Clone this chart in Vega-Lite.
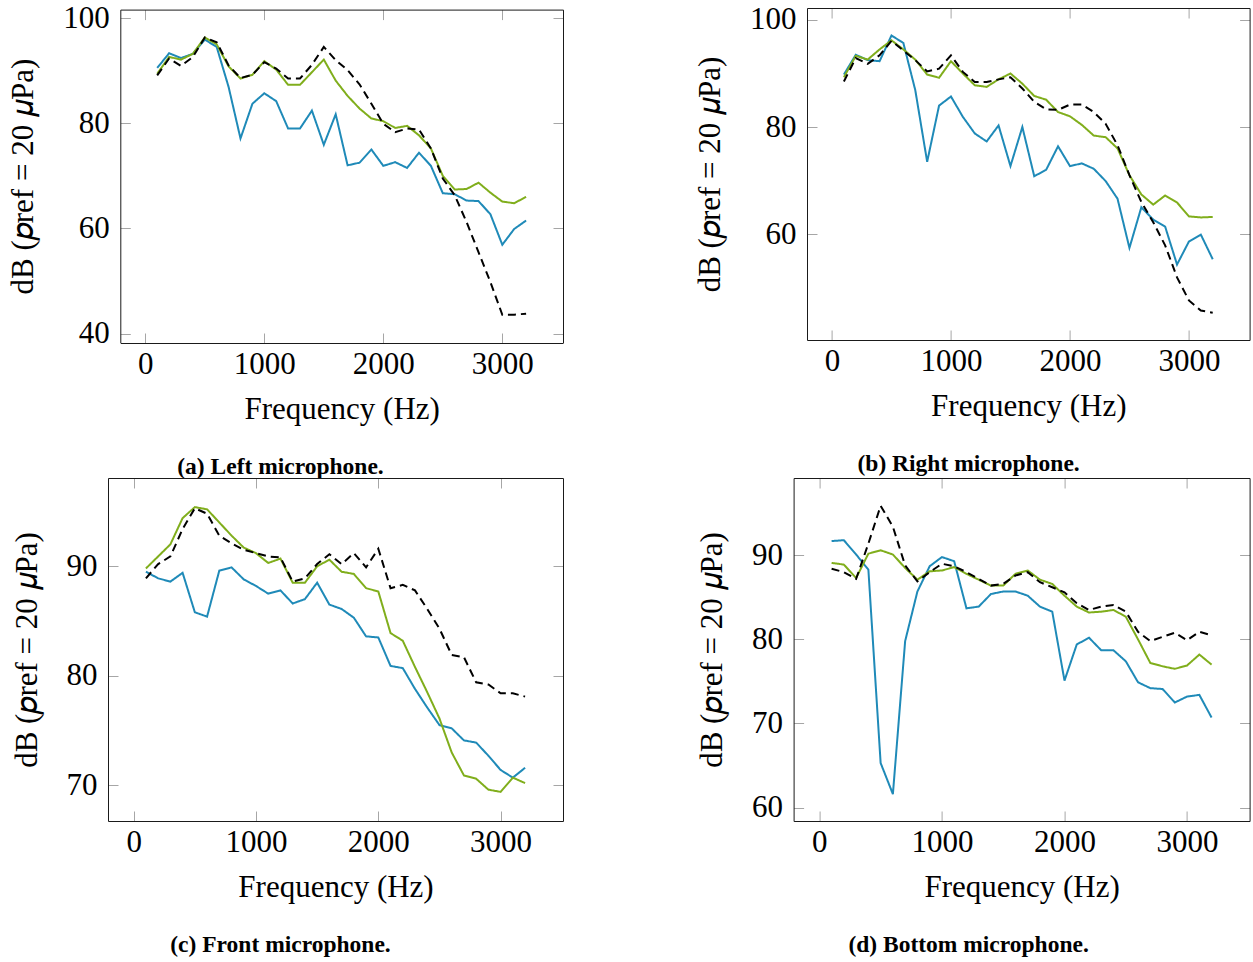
{
  "$schema": "https://vega.github.io/schema/vega-lite/v6.json",
  "padding": {"left": 7, "top": 2, "right": 0, "bottom": 0},
  "datasets": {
    "left": [
      {"f":100,"s":"M1","db":90.5},{"f":200,"s":"M1","db":93.3},{"f":300,"s":"M1","db":92.4},{"f":400,"s":"M1","db":93.2},{"f":500,"s":"M1","db":95.9},{"f":600,"s":"M1","db":94.5},{"f":700,"s":"M1","db":86.9},{"f":800,"s":"M1","db":77.1},{"f":900,"s":"M1","db":83.7},{"f":1000,"s":"M1","db":85.7},{"f":1100,"s":"M1","db":84.2},{"f":1200,"s":"M1","db":79.0},{"f":1300,"s":"M1","db":79.0},{"f":1400,"s":"M1","db":82.4},{"f":1500,"s":"M1","db":75.9},{"f":1600,"s":"M1","db":81.7},{"f":1700,"s":"M1","db":72.0},{"f":1800,"s":"M1","db":72.5},{"f":1900,"s":"M1","db":75.0},{"f":2000,"s":"M1","db":71.9},{"f":2100,"s":"M1","db":72.6},{"f":2200,"s":"M1","db":71.5},{"f":2300,"s":"M1","db":74.4},{"f":2400,"s":"M1","db":71.9},{"f":2500,"s":"M1","db":66.7},{"f":2600,"s":"M1","db":66.5},{"f":2700,"s":"M1","db":65.3},{"f":2800,"s":"M1","db":65.2},{"f":2900,"s":"M1","db":62.7},{"f":3000,"s":"M1","db":56.9},{"f":3100,"s":"M1","db":59.9},{"f":3200,"s":"M1","db":61.5},
      {"f":100,"s":"M2","db":89.4},{"f":200,"s":"M2","db":92.6},{"f":300,"s":"M2","db":92.1},{"f":400,"s":"M2","db":93.2},{"f":500,"s":"M2","db":96.3},{"f":600,"s":"M2","db":95.0},{"f":700,"s":"M2","db":90.8},{"f":800,"s":"M2","db":88.5},{"f":900,"s":"M2","db":89.2},{"f":1000,"s":"M2","db":91.8},{"f":1100,"s":"M2","db":90.2},{"f":1200,"s":"M2","db":87.3},{"f":1300,"s":"M2","db":87.3},{"f":1400,"s":"M2","db":89.7},{"f":1500,"s":"M2","db":92.1},{"f":1600,"s":"M2","db":88.1},{"f":1700,"s":"M2","db":85.2},{"f":1800,"s":"M2","db":82.8},{"f":1900,"s":"M2","db":80.9},{"f":2000,"s":"M2","db":80.4},{"f":2100,"s":"M2","db":79.1},{"f":2200,"s":"M2","db":79.5},{"f":2300,"s":"M2","db":77.7},{"f":2400,"s":"M2","db":75.2},{"f":2500,"s":"M2","db":70.0},{"f":2600,"s":"M2","db":67.4},{"f":2700,"s":"M2","db":67.5},{"f":2800,"s":"M2","db":68.7},{"f":2900,"s":"M2","db":66.8},{"f":3000,"s":"M2","db":65.1},{"f":3100,"s":"M2","db":64.8},{"f":3200,"s":"M2","db":66.0},
      {"f":100,"s":"Model","db":89.1},{"f":200,"s":"Model","db":92.3},{"f":300,"s":"Model","db":90.9},{"f":400,"s":"Model","db":92.6},{"f":500,"s":"Model","db":96.3},{"f":600,"s":"Model","db":95.4},{"f":700,"s":"Model","db":91.0},{"f":800,"s":"Model","db":88.6},{"f":900,"s":"Model","db":89.2},{"f":1000,"s":"Model","db":91.6},{"f":1100,"s":"Model","db":90.4},{"f":1200,"s":"Model","db":88.5},{"f":1300,"s":"Model","db":88.5},{"f":1400,"s":"Model","db":91.1},{"f":1500,"s":"Model","db":94.5},{"f":1600,"s":"Model","db":92.0},{"f":1700,"s":"Model","db":90.1},{"f":1800,"s":"Model","db":87.4},{"f":1900,"s":"Model","db":83.7},{"f":2000,"s":"Model","db":79.9},{"f":2100,"s":"Model","db":78.3},{"f":2200,"s":"Model","db":79.0},{"f":2300,"s":"Model","db":78.8},{"f":2400,"s":"Model","db":75.2},{"f":2500,"s":"Model","db":69.5},{"f":2600,"s":"Model","db":66.3},{"f":2700,"s":"Model","db":61.2},{"f":2800,"s":"Model","db":55.5},{"f":2900,"s":"Model","db":49.8},{"f":3000,"s":"Model","db":43.6},{"f":3100,"s":"Model","db":43.6},{"f":3200,"s":"Model","db":43.8}
    ],
    "right": [
      {"f":100,"s":"M1","db":89.8},{"f":200,"s":"M1","db":93.5},{"f":300,"s":"M1","db":92.5},{"f":400,"s":"M1","db":92.3},{"f":500,"s":"M1","db":97.1},{"f":600,"s":"M1","db":95.7},{"f":700,"s":"M1","db":86.9},{"f":800,"s":"M1","db":73.5},{"f":900,"s":"M1","db":84.0},{"f":1000,"s":"M1","db":85.7},{"f":1100,"s":"M1","db":81.9},{"f":1200,"s":"M1","db":78.8},{"f":1300,"s":"M1","db":77.3},{"f":1400,"s":"M1","db":80.3},{"f":1500,"s":"M1","db":72.7},{"f":1600,"s":"M1","db":80.0},{"f":1700,"s":"M1","db":70.8},{"f":1800,"s":"M1","db":72.0},{"f":1900,"s":"M1","db":76.4},{"f":2000,"s":"M1","db":72.7},{"f":2100,"s":"M1","db":73.2},{"f":2200,"s":"M1","db":72.2},{"f":2300,"s":"M1","db":69.9},{"f":2400,"s":"M1","db":66.6},{"f":2500,"s":"M1","db":57.4},{"f":2600,"s":"M1","db":65.0},{"f":2700,"s":"M1","db":62.7},{"f":2800,"s":"M1","db":61.4},{"f":2900,"s":"M1","db":54.3},{"f":3000,"s":"M1","db":58.6},{"f":3100,"s":"M1","db":59.9},{"f":3200,"s":"M1","db":55.3},
      {"f":100,"s":"M2","db":89.3},{"f":200,"s":"M2","db":93.3},{"f":300,"s":"M2","db":92.6},{"f":400,"s":"M2","db":94.5},{"f":500,"s":"M2","db":96.2},{"f":600,"s":"M2","db":94.5},{"f":700,"s":"M2","db":92.6},{"f":800,"s":"M2","db":89.8},{"f":900,"s":"M2","db":89.2},{"f":1000,"s":"M2","db":92.3},{"f":1100,"s":"M2","db":90.0},{"f":1200,"s":"M2","db":87.8},{"f":1300,"s":"M2","db":87.5},{"f":1400,"s":"M2","db":88.9},{"f":1500,"s":"M2","db":90.0},{"f":1600,"s":"M2","db":88.1},{"f":1700,"s":"M2","db":85.8},{"f":1800,"s":"M2","db":85.1},{"f":1900,"s":"M2","db":82.8},{"f":2000,"s":"M2","db":82.0},{"f":2100,"s":"M2","db":80.4},{"f":2200,"s":"M2","db":78.4},{"f":2300,"s":"M2","db":78.1},{"f":2400,"s":"M2","db":76.0},{"f":2500,"s":"M2","db":71.0},{"f":2600,"s":"M2","db":67.4},{"f":2700,"s":"M2","db":65.5},{"f":2800,"s":"M2","db":67.2},{"f":2900,"s":"M2","db":65.9},{"f":3000,"s":"M2","db":63.3},{"f":3100,"s":"M2","db":63.1},{"f":3200,"s":"M2","db":63.2},
      {"f":100,"s":"Model","db":88.5},{"f":200,"s":"Model","db":92.9},{"f":300,"s":"Model","db":91.8},{"f":400,"s":"Model","db":93.4},{"f":500,"s":"Model","db":96.1},{"f":600,"s":"Model","db":94.3},{"f":700,"s":"Model","db":92.5},{"f":800,"s":"Model","db":90.4},{"f":900,"s":"Model","db":90.9},{"f":1000,"s":"Model","db":93.4},{"f":1100,"s":"Model","db":90.3},{"f":1200,"s":"Model","db":88.4},{"f":1300,"s":"Model","db":88.4},{"f":1400,"s":"Model","db":88.9},{"f":1500,"s":"Model","db":89.3},{"f":1600,"s":"Model","db":87.2},{"f":1700,"s":"Model","db":84.7},{"f":1800,"s":"Model","db":83.3},{"f":1900,"s":"Model","db":83.2},{"f":2000,"s":"Model","db":84.2},{"f":2100,"s":"Model","db":84.2},{"f":2200,"s":"Model","db":82.8},{"f":2300,"s":"Model","db":80.6},{"f":2400,"s":"Model","db":76.6},{"f":2500,"s":"Model","db":71.0},{"f":2600,"s":"Model","db":66.0},{"f":2700,"s":"Model","db":62.2},{"f":2800,"s":"Model","db":57.9},{"f":2900,"s":"Model","db":51.9},{"f":3000,"s":"Model","db":47.6},{"f":3100,"s":"Model","db":45.7},{"f":3200,"s":"Model","db":45.3}
    ],
    "front": [
      {"f":100,"s":"M1","db":89.5},{"f":200,"s":"M1","db":88.9},{"f":300,"s":"M1","db":88.6},{"f":400,"s":"M1","db":89.4},{"f":500,"s":"M1","db":85.8},{"f":600,"s":"M1","db":85.4},{"f":700,"s":"M1","db":89.6},{"f":800,"s":"M1","db":89.9},{"f":900,"s":"M1","db":88.8},{"f":1000,"s":"M1","db":88.2},{"f":1100,"s":"M1","db":87.5},{"f":1200,"s":"M1","db":87.8},{"f":1300,"s":"M1","db":86.6},{"f":1400,"s":"M1","db":87.0},{"f":1500,"s":"M1","db":88.5},{"f":1600,"s":"M1","db":86.5},{"f":1700,"s":"M1","db":86.1},{"f":1800,"s":"M1","db":85.3},{"f":1900,"s":"M1","db":83.6},{"f":2000,"s":"M1","db":83.5},{"f":2100,"s":"M1","db":80.9},{"f":2200,"s":"M1","db":80.7},{"f":2300,"s":"M1","db":78.8},{"f":2400,"s":"M1","db":77.1},{"f":2500,"s":"M1","db":75.5},{"f":2600,"s":"M1","db":75.2},{"f":2700,"s":"M1","db":74.1},{"f":2800,"s":"M1","db":73.9},{"f":2900,"s":"M1","db":72.7},{"f":3000,"s":"M1","db":71.4},{"f":3100,"s":"M1","db":70.7},{"f":3200,"s":"M1","db":71.6},
      {"f":100,"s":"M2","db":89.8},{"f":200,"s":"M2","db":90.9},{"f":300,"s":"M2","db":92.0},{"f":400,"s":"M2","db":94.4},{"f":500,"s":"M2","db":95.4},{"f":600,"s":"M2","db":95.2},{"f":700,"s":"M2","db":94.0},{"f":800,"s":"M2","db":92.8},{"f":900,"s":"M2","db":91.7},{"f":1000,"s":"M2","db":91.2},{"f":1100,"s":"M2","db":90.3},{"f":1200,"s":"M2","db":90.7},{"f":1300,"s":"M2","db":88.5},{"f":1400,"s":"M2","db":88.5},{"f":1500,"s":"M2","db":90.0},{"f":1600,"s":"M2","db":90.6},{"f":1700,"s":"M2","db":89.5},{"f":1800,"s":"M2","db":89.3},{"f":1900,"s":"M2","db":88.0},{"f":2000,"s":"M2","db":87.7},{"f":2100,"s":"M2","db":83.9},{"f":2200,"s":"M2","db":83.2},{"f":2300,"s":"M2","db":80.8},{"f":2400,"s":"M2","db":78.5},{"f":2500,"s":"M2","db":76.1},{"f":2600,"s":"M2","db":73.0},{"f":2700,"s":"M2","db":70.9},{"f":2800,"s":"M2","db":70.6},{"f":2900,"s":"M2","db":69.6},{"f":3000,"s":"M2","db":69.4},{"f":3100,"s":"M2","db":70.7},{"f":3200,"s":"M2","db":70.2},
      {"f":100,"s":"Model","db":88.9},{"f":200,"s":"Model","db":90.2},{"f":300,"s":"Model","db":90.9},{"f":400,"s":"Model","db":93.4},{"f":500,"s":"Model","db":95.3},{"f":600,"s":"Model","db":94.8},{"f":700,"s":"Model","db":92.8},{"f":800,"s":"Model","db":92.1},{"f":900,"s":"Model","db":91.5},{"f":1000,"s":"Model","db":91.2},{"f":1100,"s":"Model","db":90.9},{"f":1200,"s":"Model","db":90.8},{"f":1300,"s":"Model","db":88.6},{"f":1400,"s":"Model","db":88.9},{"f":1500,"s":"Model","db":90.2},{"f":1600,"s":"Model","db":91.1},{"f":1700,"s":"Model","db":90.2},{"f":1800,"s":"Model","db":91.2},{"f":1900,"s":"Model","db":89.9},{"f":2000,"s":"Model","db":91.6},{"f":2100,"s":"Model","db":88.0},{"f":2200,"s":"Model","db":88.3},{"f":2300,"s":"Model","db":87.8},{"f":2400,"s":"Model","db":86.1},{"f":2500,"s":"Model","db":84.3},{"f":2600,"s":"Model","db":81.9},{"f":2700,"s":"Model","db":81.7},{"f":2800,"s":"Model","db":79.4},{"f":2900,"s":"Model","db":79.2},{"f":3000,"s":"Model","db":78.4},{"f":3100,"s":"Model","db":78.4},{"f":3200,"s":"Model","db":78.1}
    ],
    "bottom": [
      {"f":100,"s":"M1","db":91.7},{"f":200,"s":"M1","db":91.8},{"f":300,"s":"M1","db":90.1},{"f":400,"s":"M1","db":88.3},{"f":500,"s":"M1","db":65.3},{"f":600,"s":"M1","db":61.6},{"f":700,"s":"M1","db":79.8},{"f":800,"s":"M1","db":85.7},{"f":900,"s":"M1","db":88.7},{"f":1000,"s":"M1","db":89.8},{"f":1100,"s":"M1","db":89.3},{"f":1200,"s":"M1","db":83.7},{"f":1300,"s":"M1","db":83.9},{"f":1400,"s":"M1","db":85.4},{"f":1500,"s":"M1","db":85.7},{"f":1600,"s":"M1","db":85.7},{"f":1700,"s":"M1","db":85.2},{"f":1800,"s":"M1","db":83.9},{"f":1900,"s":"M1","db":83.3},{"f":2000,"s":"M1","db":75.1},{"f":2100,"s":"M1","db":79.4},{"f":2200,"s":"M1","db":80.2},{"f":2300,"s":"M1","db":78.7},{"f":2400,"s":"M1","db":78.7},{"f":2500,"s":"M1","db":77.4},{"f":2600,"s":"M1","db":74.9},{"f":2700,"s":"M1","db":74.2},{"f":2800,"s":"M1","db":74.1},{"f":2900,"s":"M1","db":72.5},{"f":3000,"s":"M1","db":73.2},{"f":3100,"s":"M1","db":73.4},{"f":3200,"s":"M1","db":70.7},
      {"f":100,"s":"M2","db":89.1},{"f":200,"s":"M2","db":88.9},{"f":300,"s":"M2","db":87.3},{"f":400,"s":"M2","db":90.2},{"f":500,"s":"M2","db":90.6},{"f":600,"s":"M2","db":90.1},{"f":700,"s":"M2","db":88.5},{"f":800,"s":"M2","db":87.1},{"f":900,"s":"M2","db":88.1},{"f":1000,"s":"M2","db":88.2},{"f":1100,"s":"M2","db":88.6},{"f":1200,"s":"M2","db":87.8},{"f":1300,"s":"M2","db":87.1},{"f":1400,"s":"M2","db":86.4},{"f":1500,"s":"M2","db":86.4},{"f":1600,"s":"M2","db":87.8},{"f":1700,"s":"M2","db":88.2},{"f":1800,"s":"M2","db":87.1},{"f":1900,"s":"M2","db":86.6},{"f":2000,"s":"M2","db":85.2},{"f":2100,"s":"M2","db":83.9},{"f":2200,"s":"M2","db":83.2},{"f":2300,"s":"M2","db":83.3},{"f":2400,"s":"M2","db":83.5},{"f":2500,"s":"M2","db":82.7},{"f":2600,"s":"M2","db":80.0},{"f":2700,"s":"M2","db":77.2},{"f":2800,"s":"M2","db":76.8},{"f":2900,"s":"M2","db":76.5},{"f":3000,"s":"M2","db":76.9},{"f":3100,"s":"M2","db":78.2},{"f":3200,"s":"M2","db":77.0},
      {"f":100,"s":"Model","db":88.4},{"f":200,"s":"Model","db":88.0},{"f":300,"s":"Model","db":87.2},{"f":400,"s":"Model","db":91.4},{"f":500,"s":"Model","db":95.9},{"f":600,"s":"Model","db":93.4},{"f":700,"s":"Model","db":88.8},{"f":800,"s":"Model","db":86.9},{"f":900,"s":"Model","db":88.0},{"f":1000,"s":"Model","db":89.0},{"f":1100,"s":"Model","db":88.7},{"f":1200,"s":"Model","db":88.0},{"f":1300,"s":"Model","db":87.2},{"f":1400,"s":"Model","db":86.4},{"f":1500,"s":"Model","db":86.6},{"f":1600,"s":"Model","db":87.6},{"f":1700,"s":"Model","db":88.0},{"f":1800,"s":"Model","db":86.8},{"f":1900,"s":"Model","db":86.2},{"f":2000,"s":"Model","db":85.6},{"f":2100,"s":"Model","db":84.3},{"f":2200,"s":"Model","db":83.5},{"f":2300,"s":"Model","db":83.9},{"f":2400,"s":"Model","db":84.1},{"f":2500,"s":"Model","db":83.3},{"f":2600,"s":"Model","db":80.9},{"f":2700,"s":"Model","db":79.8},{"f":2800,"s":"Model","db":80.3},{"f":2900,"s":"Model","db":80.8},{"f":3000,"s":"Model","db":79.9},{"f":3100,"s":"Model","db":80.9},{"f":3200,"s":"Model","db":80.5}
    ]
  },
  "columns": 2,
  "spacing": {"row": 127, "column": 229.6},
  "bounds": "flush",
  "align": "all",
  "concat": [
    {
      "data": {"name": "left"},
      "width": 455,
      "height": 335,
      "title": {"text": "(a) Left microphone.", "dx": -55},
      "layer": [
        {
          "mark": {"type": "line", "strokeWidth": 2},
          "encoding": {
            "x": {"field": "f", "type": "quantitative", "scale": {"domain": [-210, 3510], "range": [12.3, 455], "nice": false, "zero": false}, "axis": {"orient": "bottom", "values": [0, 1000, 2000, 3000], "format": "d", "title": "Frequency (Hz)"}},
            "y": {"field": "db", "type": "quantitative", "scale": {"domain": [38.3, 101.6], "range": [334.6, 1.6], "nice": false, "zero": false}, "axis": {"orient": "left", "values": [40, 60, 80, 100], "format": "d", "offset": -12.3, "title": "dB (𝑝ref = 20 𝜇Pa)"}},
            "color": {"field": "s", "type": "nominal", "scale": {"domain": ["M1", "M2", "Model"], "range": ["#1f8ab8", "#80ae1c", "#000000"]}, "legend": null},
            "strokeDash": {"field": "s", "type": "nominal", "scale": {"domain": ["M1", "M2", "Model"], "range": [[1, 0], [1, 0], [8, 5]]}, "legend": null}
          }
        },
        {
          "mark": {"type": "point", "opacity": 0},
          "encoding": {
            "x": {"field": "f", "type": "quantitative", "axis": {"orient": "top", "values": [0, 1000, 2000, 3000], "labels": false, "title": null, "offset": -1.6}},
            "y": {"field": "db", "type": "quantitative", "axis": {"orient": "right", "values": [40, 60, 80, 100], "labels": false, "title": null}}
          }
        }
      ],
      "resolve": {"axis": {"x": "independent", "y": "independent"}}
    },
    {
      "data": {"name": "right"},
      "width": 456,
      "height": 332,
      "title": {"text": "(b) Right microphone.", "dx": -53},
      "layer": [
        {
          "mark": {"type": "line", "strokeWidth": 2},
          "encoding": {
            "x": {"field": "f", "type": "quantitative", "scale": {"domain": [-210, 3510], "range": [13.4, 456], "nice": false, "zero": false}, "axis": {"orient": "bottom", "values": [0, 1000, 2000, 3000], "format": "d", "title": "Frequency (Hz)"}},
            "y": {"field": "db", "type": "quantitative", "scale": {"domain": [40.2, 102.24], "nice": false, "zero": false}, "axis": {"orient": "left", "values": [60, 80, 100], "format": "d", "offset": -13.4, "title": "dB (𝑝ref = 20 𝜇Pa)"}},
            "color": {"field": "s", "type": "nominal", "scale": {"domain": ["M1", "M2", "Model"], "range": ["#1f8ab8", "#80ae1c", "#000000"]}, "legend": null},
            "strokeDash": {"field": "s", "type": "nominal", "scale": {"domain": ["M1", "M2", "Model"], "range": [[1, 0], [1, 0], [8, 5]]}, "legend": null}
          }
        },
        {
          "mark": {"type": "point", "opacity": 0},
          "encoding": {
            "x": {"field": "f", "type": "quantitative", "axis": {"orient": "top", "values": [0, 1000, 2000, 3000], "labels": false, "title": null}},
            "y": {"field": "db", "type": "quantitative", "axis": {"orient": "right", "values": [60, 80, 100], "labels": false, "title": null}}
          }
        }
      ],
      "resolve": {"axis": {"x": "independent", "y": "independent"}}
    },
    {
      "data": {"name": "front"},
      "width": 455,
      "height": 343,
      "title": {"text": "(c) Front microphone.", "dx": -55},
      "layer": [
        {
          "mark": {"type": "line", "strokeWidth": 2},
          "encoding": {
            "x": {"field": "f", "type": "quantitative", "scale": {"domain": [-210, 3510], "nice": false, "zero": false}, "axis": {"orient": "bottom", "values": [0, 1000, 2000, 3000], "format": "d", "title": "Frequency (Hz)"}},
            "y": {"field": "db", "type": "quantitative", "scale": {"domain": [66.74, 98.06], "nice": false, "zero": false}, "axis": {"orient": "left", "values": [70, 80, 90], "format": "d", "title": "dB (𝑝ref = 20 𝜇Pa)"}},
            "color": {"field": "s", "type": "nominal", "scale": {"domain": ["M1", "M2", "Model"], "range": ["#1f8ab8", "#80ae1c", "#000000"]}, "legend": null},
            "strokeDash": {"field": "s", "type": "nominal", "scale": {"domain": ["M1", "M2", "Model"], "range": [[1, 0], [1, 0], [8, 5]]}, "legend": null}
          }
        },
        {
          "mark": {"type": "point", "opacity": 0},
          "encoding": {
            "x": {"field": "f", "type": "quantitative", "axis": {"orient": "top", "values": [0, 1000, 2000, 3000], "labels": false, "title": null}},
            "y": {"field": "db", "type": "quantitative", "axis": {"orient": "right", "values": [70, 80, 90], "labels": false, "title": null}}
          }
        }
      ],
      "resolve": {"axis": {"x": "independent", "y": "independent"}}
    },
    {
      "data": {"name": "bottom"},
      "width": 456,
      "height": 343,
      "title": {"text": "(d) Bottom microphone.", "dx": -53},
      "layer": [
        {
          "mark": {"type": "line", "strokeWidth": 2},
          "encoding": {
            "x": {"field": "f", "type": "quantitative", "scale": {"domain": [-210, 3510], "nice": false, "zero": false}, "axis": {"orient": "bottom", "values": [0, 1000, 2000, 3000], "format": "d", "title": "Frequency (Hz)"}},
            "y": {"field": "db", "type": "quantitative", "scale": {"domain": [58.4, 99.2], "nice": false, "zero": false}, "axis": {"orient": "left", "values": [60, 70, 80, 90], "format": "d", "title": "dB (𝑝ref = 20 𝜇Pa)"}},
            "color": {"field": "s", "type": "nominal", "scale": {"domain": ["M1", "M2", "Model"], "range": ["#1f8ab8", "#80ae1c", "#000000"]}, "legend": null},
            "strokeDash": {"field": "s", "type": "nominal", "scale": {"domain": ["M1", "M2", "Model"], "range": [[1, 0], [1, 0], [8, 5]]}, "legend": null}
          }
        },
        {
          "mark": {"type": "point", "opacity": 0},
          "encoding": {
            "x": {"field": "f", "type": "quantitative", "axis": {"orient": "top", "values": [0, 1000, 2000, 3000], "labels": false, "title": null}},
            "y": {"field": "db", "type": "quantitative", "axis": {"orient": "right", "values": [60, 70, 80, 90], "labels": false, "title": null}}
          }
        }
      ],
      "resolve": {"axis": {"x": "independent", "y": "independent"}}
    }
  ],
  "config": {
    "font": "Liberation Serif",
    "view": {"stroke": null},
    "axis": {
      "grid": false,
      "domainColor": "#1a1a1a",
      "domainWidth": 1,
      "tickColor": "#a6a6a6",
      "tickWidth": 1,
      "tickSize": -10,
      "labelFont": "Liberation Serif",
      "labelFontSize": 31,
      "labelColor": "#000000",
      "labelOverlap": false,
      "titleFont": "Liberation Serif",
      "titleFontSize": 31,
      "titleFontWeight": "normal",
      "titleColor": "#000000"
    },
    "axisX": {"labelPadding": 16, "titlePadding": 15},
    "axisY": {"labelPadding": 21, "titlePadding": 23},
    "title": {
      "font": "Liberation Serif",
      "fontSize": 23.5,
      "fontWeight": "bold",
      "color": "#000000",
      "orient": "bottom",
      "frame": "group",
      "anchor": "middle",
      "offset": 31
    }
  }
}
